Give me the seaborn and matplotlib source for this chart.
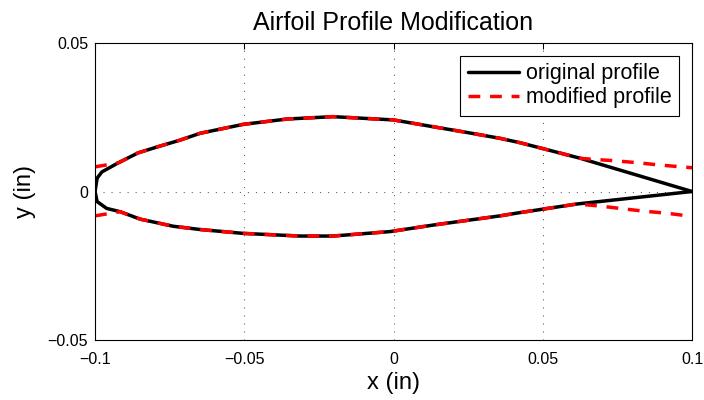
import matplotlib
matplotlib.use("Agg")
import matplotlib.pyplot as plt
import seaborn as sns
import pandas as pd

# original profile
orig_upper_x = [-0.1, -0.0993, -0.0977, -0.0923, -0.0856, -0.0792, -0.0715, -0.0648, -0.0504,
                -0.0357, -0.0203, 0.0, 0.0133, 0.0245, 0.0357, 0.0425, 0.0625, 0.1]
orig_upper_y = [0.0, 0.0045, 0.0066, 0.0096, 0.0130, 0.0150, 0.0173, 0.0196, 0.0226,
                0.0244, 0.0252, 0.0241, 0.0218, 0.0199, 0.0179, 0.0164, 0.0112, 0.0]
orig_lower_x = [-0.1, -0.0993, -0.0961, -0.0916, -0.0849, -0.0738, -0.0648, -0.0504, -0.0313,
                -0.0203, -0.0012, 0.0133, 0.0357, 0.0424, 0.0615, 0.1]
orig_lower_y = [0.0, -0.0034, -0.0057, -0.0068, -0.0093, -0.0117, -0.0128, -0.0141, -0.0150,
                -0.0150, -0.0135, -0.0113, -0.0082, -0.0071, -0.0042, 0.0]

# modified profile
mod_upper_x = [-0.1, -0.0923, -0.0856, -0.0792, -0.0715, -0.0648, -0.0504, -0.0357, -0.0203,
               0.0, 0.0133, 0.0245, 0.0357, 0.0425, 0.0625, 0.0658, 0.0735, 0.0816, 0.0893, 0.1]
mod_upper_y = [0.0083, 0.0096, 0.0130, 0.0150, 0.0173, 0.0196, 0.0226, 0.0244, 0.0252,
               0.0241, 0.0218, 0.0199, 0.0179, 0.0164, 0.0112, 0.0109, 0.0104, 0.0097, 0.0089, 0.0080]
mod_lower_x = [-0.1, -0.0916, -0.0849, -0.0738, -0.0648, -0.0504, -0.0313, -0.0203, -0.0012,
               0.0133, 0.0357, 0.0424, 0.0615, 0.0692, 0.0759, 0.0836, 0.0915, 0.1]
mod_lower_y = [-0.0082, -0.0068, -0.0093, -0.0117, -0.0128, -0.0141, -0.0150, -0.0150, -0.0135,
               -0.0113, -0.0082, -0.0071, -0.0042, -0.0049, -0.0057, -0.0066, -0.0073, -0.0084]

x_ticks = [-0.1, -0.05, 0, 0.05, 0.1]
x_labels = ["\u22120.1", "\u22120.05", "0", "0.05", "0.1"]
y_ticks = [-0.05, 0, 0.05]
y_labels = ["\u22120.05", "0", "0.05"]

sns.set_style("white")
plt.rcParams['font.family'] = ['Liberation Sans', 'DejaVu Sans']
plt.rcParams['text.color'] = 'black'
plt.rcParams['axes.labelcolor'] = 'black'

fig = plt.figure(figsize=(7.04, 4.0), dpi=100)
ax = fig.add_axes([0.135, 0.15, 0.848, 0.7425])

dash = (0, (3.4, 2.8))
sns.lineplot(x=orig_upper_x, y=orig_upper_y, sort=False, color='black', lw=2.5, ax=ax,
             label='original profile')
sns.lineplot(x=orig_lower_x, y=orig_lower_y, sort=False, color='black', lw=2.5, ax=ax)
sns.lineplot(x=mod_upper_x, y=mod_upper_y, sort=False, color='red', lw=2.5, ax=ax,
             label='modified profile')
sns.lineplot(x=mod_lower_x, y=mod_lower_y, sort=False, color='red', lw=2.5, ax=ax)
for ln in ax.get_lines()[2:]:
    ln.set_linestyle(dash)

ax.set_xlim(-0.1, 0.1)
ax.set_ylim(-0.05, 0.05)
ax.set_xticks(x_ticks)
ax.set_xticklabels(x_labels)
ax.set_yticks(y_ticks)
ax.set_yticklabels(y_labels)
ax.tick_params(direction='in', length=4, width=0.75, top=True, right=True,
               labelsize=11.5, colors='black')
ax.tick_params(axis='x', pad=8.5)
ax.tick_params(axis='y', pad=5)
for s in ax.spines.values():
    s.set_color('black')
    s.set_linewidth(0.8)
ax.grid(True, color='0.35', lw=0.75, linestyle=(0, (1, 6.7)))

ax.set_title('Airfoil Profile Modification', fontsize=18, pad=9, color='black')
ax.set_xlabel('x (in)', fontsize=17, labelpad=4, color='black')
ax.set_ylabel('y (in)', fontsize=17, labelpad=8, color='black')

leg = ax.legend(loc='upper right', fontsize=15.5, handlelength=2.4, handletextpad=0.3,
                labelspacing=0.12, borderaxespad=0.6, fancybox=False, framealpha=1,
                edgecolor='black', borderpad=0.35)
leg.get_frame().set_linewidth(0.8)
for t in leg.get_texts():
    t.set_color('black')

fig.savefig('out.png', dpi=100)
